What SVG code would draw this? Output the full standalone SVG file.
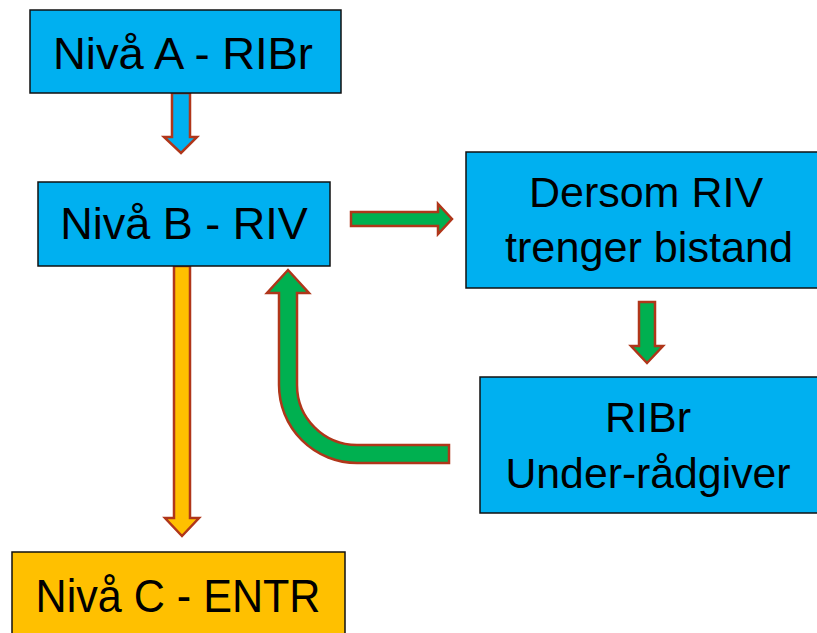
<svg xmlns="http://www.w3.org/2000/svg" width="817" height="633" viewBox="0 0 817 633">
<style>
.box{stroke:#111;stroke-width:1.5}
.blue{fill:#00B0F0}
.yellow{fill:#FFC000}
.t{font-family:"Liberation Sans",Arial,sans-serif;fill:#000;text-anchor:middle}
.arr{stroke:#B0361A;stroke-width:2.5;stroke-linejoin:miter}
.g{fill:#00B050}
</style>
<rect width="817" height="633" fill="#fff"/>
<g id="connectors">
<path class="arr blue" d="M172,93 L190,93 L190,137 L197,137 L181,153 L164,137 L172,137 Z"/>
<path class="arr g" d="M351,212 L438,212 L438,204 L452,219 L438,234 L438,226 L351,226 Z"/>
<path class="arr g" d="M449,445 L357,445 A60,60 0 0 1 297,385 L297,293 L309,293 L288,270 L267,293 L279,293 L279,385 A78,78 0 0 0 357,463 L449,463 Z"/>
<path class="arr yellow" d="M174,266 L190,266 L190,518 L199,518 L182,536 L165,518 L174,518 Z"/>
<path class="arr g" d="M639,302 L655,302 L655,346 L663,346 L647,363 L631,346 L639,346 Z"/>
</g>
<g id="nodeA">
<rect class="box blue" x="30" y="10" width="311" height="83"/>
<text class="t" x="183" y="69" font-size="45" textLength="260" lengthAdjust="spacingAndGlyphs">Nivå A - RIBr</text>
</g>
<g id="nodeB">
<rect class="box blue" x="38" y="182" width="292" height="84"/>
<text class="t" x="184" y="239" font-size="45">Nivå B - RIV</text>
</g>
<g id="nodeDersom">
<rect class="box blue" x="466" y="152" width="362" height="136"/>
<text class="t" x="646" y="207" font-size="43">Dersom RIV</text>
<text class="t" x="649" y="262" font-size="43" textLength="288" lengthAdjust="spacingAndGlyphs">trenger bistand</text>
</g>
<g id="nodeRIBr">
<rect class="box blue" x="480" y="377" width="348" height="136"/>
<text class="t" x="648" y="432" font-size="43">RIBr</text>
<text class="t" x="648" y="488" font-size="43" textLength="285" lengthAdjust="spacingAndGlyphs">Under-rådgiver</text>
</g>
<g id="nodeC">
<rect class="box yellow" x="12" y="552" width="333" height="100"/>
<text class="t" x="178" y="612" font-size="47" textLength="285" lengthAdjust="spacingAndGlyphs">Nivå C - ENTR</text>
</g>
</svg>
